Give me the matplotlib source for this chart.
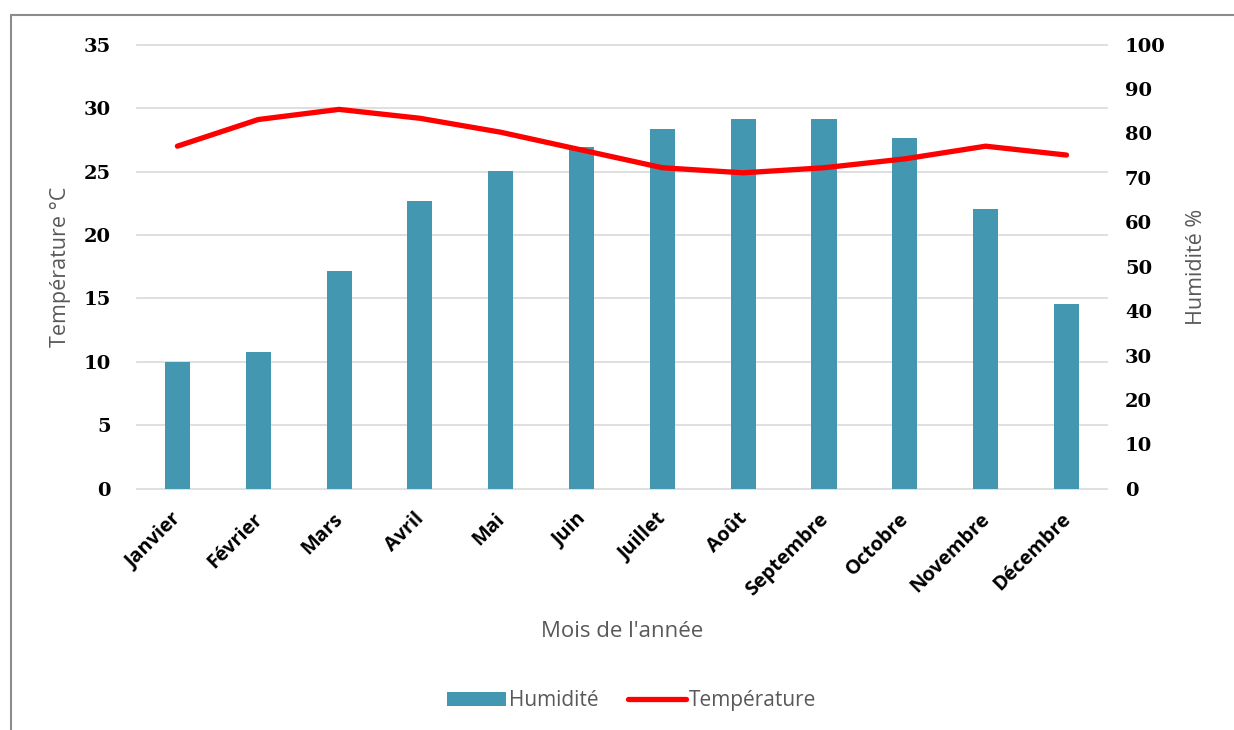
import matplotlib.pyplot as plt
import matplotlib.transforms as mtransforms
from matplotlib.patches import Rectangle

# Données
mois = ['Janvier', 'Février', 'Mars', 'Avril', 'Mai', 'Juin', 'Juillet',
        'Août', 'Septembre', 'Octobre', 'Novembre', 'Décembre']
humidite = [28.6, 30.9, 49.0, 64.8, 71.6, 76.9, 81.0, 83.2, 83.2, 78.9, 63.0, 41.5]
temperature = [27.0, 29.1, 29.9, 29.2, 28.1, 26.7, 25.3, 24.9, 25.3, 26.0, 27.0, 26.3]

gris = '#595959'
fig = plt.figure(figsize=(12.34, 7.30), dpi=100)
ax = fig.add_axes([0.111, 0.3305, 0.786, 0.6083])   # axe température + grille
ax2 = ax.twinx()                                      # humidité (barres)
ax3 = ax.twinx()                                      # courbe température au-dessus

x = list(range(len(mois)))

ax2.bar(x, humidite, width=0.31, color='#4397B0', label='Humidité')
ax2.set_ylim(0, 100)
ax2.set_yticks(range(0, 101, 10))

ax3.plot(x, temperature, color='#FF0000', lw=3.8, solid_capstyle='round',
         label='Température')
ax3.set_ylim(0, 35)
ax3.set_yticks([])

ax.set_ylim(0, 35)
ax.set_yticks(range(0, 36, 5))
ax.set_xlim(-0.5, 11.5)
ax.yaxis.grid(True, color='#D9D9D9', lw=1.2)
ax.set_axisbelow(True)
for gl in ax.get_ygridlines():
    gl.set_clip_on(False)

for a in (ax, ax2, ax3):
    for s in a.spines.values():
        s.set_visible(False)
    a.tick_params(length=0)

ax.tick_params(axis='y', pad=19)
ax2.tick_params(axis='y', pad=13)
for lab in ax.get_yticklabels() + ax2.get_yticklabels():
    lab.set_fontfamily('DejaVu Serif')
    lab.set_fontweight('bold')
    lab.set_fontsize(14)

ax.set_xticks(x)
ax.set_xticklabels(mois, rotation=45, ha='right', rotation_mode='anchor',
                   fontsize=14.3, fontweight='bold', family='Open Sans')
ax.tick_params(axis='x', pad=6)
decalage = mtransforms.ScaledTranslation(-0.06, -0.12, fig.dpi_scale_trans)
for lab in ax.get_xticklabels():
    lab.set_transform(lab.get_transform() + decalage)

ax.set_ylabel('Température °C', fontsize=15.5, color=gris, family='Open Sans')
ax.yaxis.set_label_coords(-0.068, 0.5)
ax2.set_ylabel('Humidité %', fontsize=15.5, color=gris, family='Open Sans')
ax2.yaxis.set_label_coords(1.082, 0.5)
ax.set_xlabel("Mois de l'année", fontsize=16, color=gris, family='Open Sans')
ax.xaxis.set_label_coords(0.5, -0.297)

h1, l1 = ax2.get_legend_handles_labels()
h2, l2 = ax3.get_legend_handles_labels()
fig.legend(h1 + h2, l1 + l2, loc='center', bbox_to_anchor=(0.512, 0.040),
           ncol=2, frameon=False, handlelength=2.8, handleheight=0.7,
           columnspacing=1.4, handletextpad=0.15,
           prop={'family': 'Open Sans', 'size': 15}, labelcolor=gris)

# cadre du graphique
fig.patches.append(Rectangle((0.0089, -0.05), 1.2, 1.029, transform=fig.transFigure,
                             fill=False, edgecolor='#8C8C8C', lw=1.5))

fig.savefig('out.png', dpi=100)
